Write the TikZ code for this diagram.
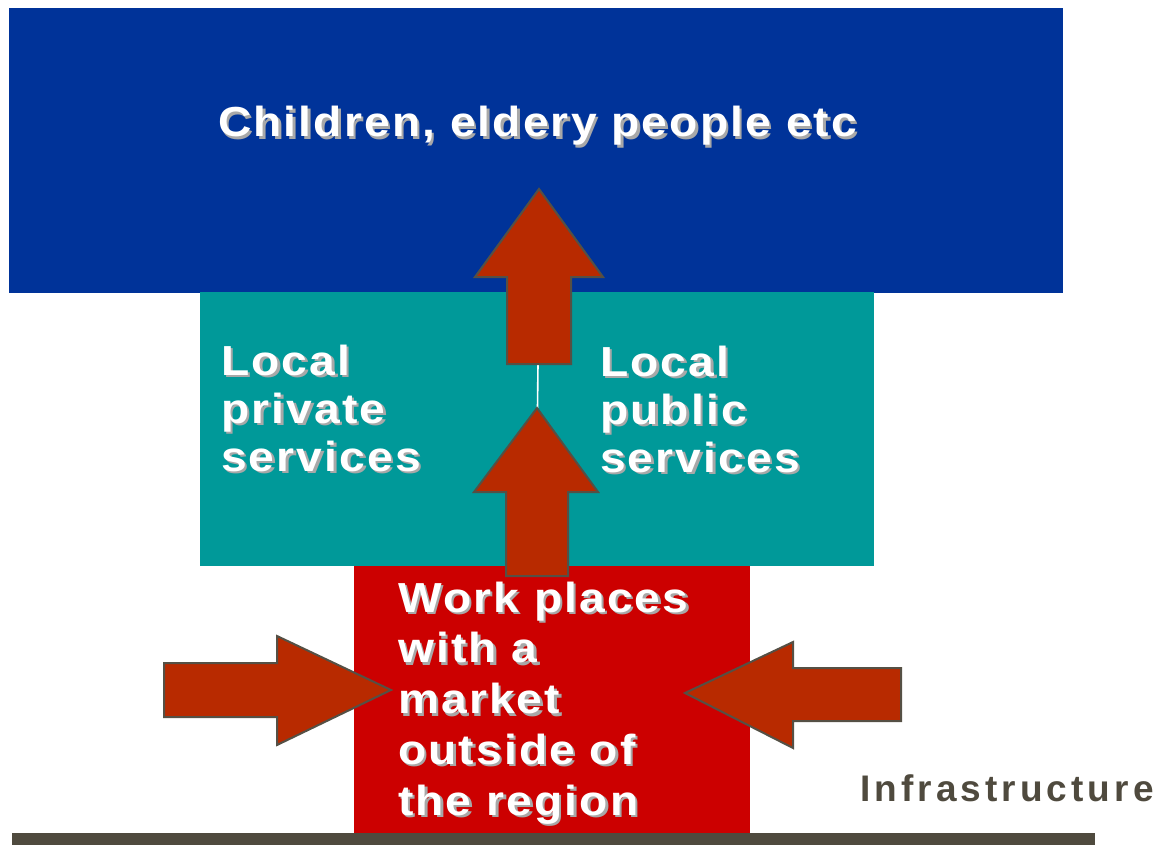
\documentclass[tikz,border=0pt]{standalone}
\usepackage{fontspec}
\newfontfamily\lblfont[LetterSpace=5, FakeStretch=1.1]{Liberation Sans}
\newfontfamily\infrafont[LetterSpace=11]{Liberation Sans}
\definecolor{topblue}{HTML}{003399}
\definecolor{midteal}{HTML}{009999}
\definecolor{lowred}{HTML}{CC0000}
\definecolor{arrowfill}{HTML}{B82A00}
\definecolor{arrowline}{HTML}{555045}
\definecolor{bargray}{HTML}{4F4A3E}
\definecolor{shadowgray}{HTML}{A8A8A8}
\begin{document}
\begin{tikzpicture}[x=1pt,y=-1pt,
  lbl/.style={anchor=base west, inner sep=0, text=white, align=left,
    font={\lblfont\bfseries\fontsize{42pt}{48pt}\selectfont}},
  lblred/.style={lbl, font={\lblfont\bfseries\fontsize{42pt}{50.75pt}\selectfont}},
  shad/.style={text=shadowgray},
  blockarrow/.style={fill=arrowfill, draw=arrowline, line width=2pt, line join=miter}]
\useasboundingbox (0,0) rectangle (1159,845);
% blocks
\fill[topblue] (9,8) rectangle (1063,292.5);
\fill[midteal] (200,292) rectangle (874,566);
\fill[lowred] (354,566) rectangle (750,833);
\fill[bargray] (12,833) rectangle (1095,845);
% connecting line between the two up arrows
\coordinate (upbot) at (538,364);
\coordinate (lowtip) at (537.5,408);
\draw[white, line width=1.6pt] (upbot) -- (lowtip);
% block arrows
\draw[blockarrow] (539,189) -- (603,277) -- (571,277) -- (571,364) -- (507,364) -- (507,277) -- (475,277) -- cycle;
\draw[blockarrow] (537,408) -- (598,492) -- (568,492) -- (568,576) -- (506,576) -- (506,492) -- (474,492) -- cycle;
\draw[blockarrow] (164,663) -- (277,663) -- (277,636) -- (391,690) -- (277,745) -- (277,717) -- (164,717) -- cycle;
\draw[blockarrow] (685,693) -- (793,642) -- (793,668) -- (901,668) -- (901,721) -- (793,721) -- (793,748) -- cycle;
% texts with shadows (base anchor = baseline of the last line)
\node[lbl, shad] (topS) at (220.5,139.5) {Children, eldery people etc};
\node[lbl] (top) at (218,137) {Children, eldery people etc};
\node[lbl, shad] (privS) at (223.5,473.5) {Local\\private\\services};
\node[lbl] (priv) at (221,471) {Local\\private\\services};
\node[lbl, shad] (pubS) at (602.5,474.5) {Local\\public\\services};
\node[lbl] (pub) at (600,472) {Local\\public\\services};
\node[lblred, shad] (workS) at (400.5,817.5) {Work places\\with a\\market\\outside of\\the region};
\node[lblred] (work) at (398,815) {Work places\\with a\\market\\outside of\\the region};
\node[anchor=base west, inner sep=0, text=bargray,
  font={\infrafont\bfseries\fontsize{37pt}{44pt}\selectfont}] (infra) at (860,801) {Infrastructure};
\end{tikzpicture}
\end{document}
